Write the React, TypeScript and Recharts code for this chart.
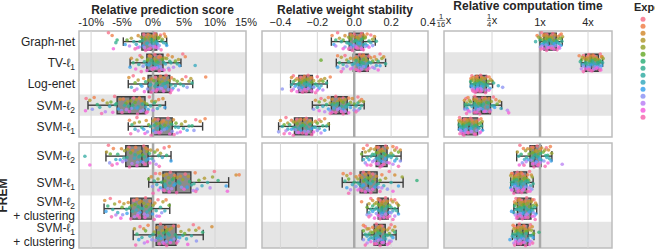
import React from 'react';
import { ScatterChart, Scatter, XAxis, YAxis, ReferenceArea, ReferenceLine } from 'recharts';

const FONT = '"Liberation Sans", Arial, Helvetica, sans-serif';
const TEXT = '#262626';

// One colour per experiment (husl-like palette)
const experimentColors = [
  '#f77189', '#f0804a', '#d38c32', '#b39b31', '#97a431',
  '#6cad31', '#33b07a', '#35ae93', '#36ada4', '#38aabf',
  '#3ba3ec', '#8e95f4', '#bb83f4', '#f461dd', '#f668b2',
];

const topMethods = ['Graph-net', 'TV-ℓ₁', 'Log-enet', 'SVM-ℓ₂', 'SVM-ℓ₁'];
const fremMethods = ['SVM-ℓ₂', 'SVM-ℓ₁', 'SVM-ℓ₂\n+ clustering', 'SVM-ℓ₁\n+ clustering'];

const scoreTicks = [-10, -5, 0, 5, 10, 15];
const stabilityTicks = [-0.4, -0.2, 0, 0.2, 0.4];
const timeTicks = [1 / 16, 1 / 4, 1, 4];

const scoreGrid = [-10, 10];
const stabilityGrid = [-0.4, -0.2, 0.2];
const timeGrid = [1 / 4, 4];

// Box statistics per method: [low whisker, Q1, median, Q3, high whisker]
const scoreBoxes = [
  [-4.8, -1.8, -0.2, 0.6, 2.2],
  [-3.7, -1.0, 0.0, 1.6, 4.5],
  [-4.0, -0.8, 0.8, 2.7, 6.4],
  [-10.5, -5.8, -3.7, -1.3, 2.0],
  [-4.0, -0.2, 1.1, 3.1, 8.0],
  [-7.6, -4.4, -1.8, -0.8, 2.9],
  [-0.7, 1.6, 3.7, 6.1, 12.2],
  [-7.9, -3.6, -1.8, -0.2, 2.7],
  [-3.2, 0.5, 1.9, 3.7, 8.1],
];
const stabilityBoxes = [
  [-0.124, -0.027, 0.005, 0.049, 0.114],
  [-0.097, -0.005, 0.03, 0.076, 0.17],
  [-0.345, -0.3, -0.26, -0.227, -0.146],
  [-0.227, -0.124, -0.081, -0.038, 0.054],
  [-0.41, -0.324, -0.28, -0.227, -0.135],
  [0.043, 0.119, 0.146, 0.178, 0.254],
  [-0.065, 0.032, 0.076, 0.124, 0.265],
  [0.07, 0.13, 0.151, 0.184, 0.238],
  [0.043, 0.108, 0.14, 0.168, 0.227],
];
const timeBoxes = [
  [1.0, 1.12, 1.3, 1.6, 1.9],
  [3.3, 3.7, 4.4, 5.4, 6.1],
  [0.134, 0.154, 0.173, 0.213, 0.254],
  [0.112, 0.146, 0.184, 0.24, 0.33],
  [0.095, 0.106, 0.129, 0.165, 0.19],
  [0.51, 0.75, 0.86, 1.03, 1.41],
  [0.43, 0.47, 0.56, 0.68, 0.82],
  [0.47, 0.52, 0.63, 0.77, 0.91],
  [0.45, 0.51, 0.61, 0.71, 0.84],
];

// Per-fold results, 4 values per experiment, experiments in palette order
const scoreGraphNet = [
  -7.2, -1.5, 0.3, 1.2, -6.6, -0.8, -0.1, 1.8, -2.4, -1.1, 0.5, 2.0,
  -3.5, -0.4, 0.2, 1.1, -1.9, -0.6, 0.8, 1.5, -4.2, -1.3, 0.1, 0.9,
  -5.8, -2.1, -0.3, 1.4, -6.0, -1.7, -0.2, 0.6, -3.1, -0.9, 0.4, 2.1,
  -2.7, -1.0, 0.0, 1.7, -4.5, -1.6, 0.7, 2.2, -2.2, -0.5, -0.1, 1.0,
  -3.8, -1.4, 0.2, 0.8, -6.4, -2.5, -0.7, 0.5, -2.9, -1.2, -0.4, 1.3,
];
const scoreTvL1 = [
  -2.1, 0.3, 1.1, 4.8, -0.6, 0.9, 2.4, 5.2, -3.5, -0.4, 1.3, 3.1,
  -1.8, 0.2, 1.9, 4.1, -2.6, -0.8, 0.6, 2.2, -0.9, 0.5, 1.5, 3.6,
  -3.2, -0.2, 0.8, 2.7, -1.4, 0.1, 1.7, 3.9, -2.3, -0.5, 0.4, 2.9,
  -1.1, 0.7, 2.0, 6.8, -3.7, -0.7, 0.9, 4.3, -1.6, 0.0, 1.2, 2.5,
  -0.3, 0.6, 1.4, 3.3, -2.8, -1.0, 0.2, 1.8, -1.9, -0.1, 1.0, 2.6,
];
const scoreLogEnet = [
  -3.2, 0.4, 2.1, 5.3, -1.5, 1.2, 3.0, 8.5, -3.9, -0.2, 1.8, 4.7,
  -2.4, 0.9, 2.6, 6.1, -0.7, 1.5, 3.4, 5.8, -2.9, 0.1, 1.0, 3.9,
  -1.2, 0.6, 2.3, 4.4, -0.4, 1.9, 2.9, 6.3, -2.0, 0.3, 1.6, 3.6,
  -3.5, -0.5, 1.3, 4.9, -1.8, 0.8, 2.0, 3.2, -0.9, 1.1, 2.5, 5.5,
  -2.6, 0.0, 1.4, 4.1, -1.4, 0.7, 1.7, 3.0, -3.0, -0.3, 0.5, 2.8,
];
const scoreSvmL2 = [
  -10.8, -6.2, -3.1, -0.6, -9.5, -4.8, -2.2, 0.9, -8.1, -5.3, -1.9, 1.6,
  -10.2, -4.1, -2.7, -0.2, -7.4, -3.6, -1.4, 0.4, -6.8, -4.4, -2.9, -1.0,
  -9.0, -5.9, -3.3, 0.2, -6.1, -3.9, -1.7, 1.1, -8.6, -4.6, -2.4, -0.4,
  -7.0, -3.2, -1.2, 0.7, -5.6, -2.6, -0.8, 1.9, -9.8, -5.1, -3.5, -1.6,
  -7.7, -4.3, -2.0, 0.0, -10.9, -6.5, -3.8, -1.1, -8.3, -5.0, -2.5, -0.9,
];
const scoreSvmL1 = [
  -2.6, 0.8, 2.4, 6.9, -3.8, 0.3, 1.7, 8.4, -1.1, 1.4, 3.3, 7.6,
  -3.0, 0.0, 2.1, 5.2, -2.2, 1.0, 2.8, 4.6, -0.7, 0.5, 1.9, 3.7,
  -3.4, 1.2, 3.0, 6.3, -1.8, 0.2, 2.5, 5.8, -0.4, 1.6, 3.6, 4.9,
  -2.9, 0.7, 1.5, 4.1, -1.5, 0.1, 2.2, 5.5, -0.9, 1.8, 3.1, 6.6,
  -2.4, 0.4, 1.3, 3.9, -1.3, 0.9, 2.7, 4.4, -3.6, -0.3, 1.1, 3.4,
];
const scoreFremSvmL2 = [
  -7.2, -3.9, -1.5, 1.8, -6.4, -2.8, -0.9, 2.6, -5.1, -3.3, -1.2, 0.7,
  -7.5, -4.1, -2.0, -0.4, -4.6, -2.4, -1.0, 1.2, -6.9, -3.6, -1.7, 0.3,
  -5.7, -2.1, -0.6, 2.2, -4.2, -2.9, -1.4, 0.9, -11.0, -4.7, -2.3, -0.2,
  -6.0, -3.0, -1.1, 1.5, -5.3, -1.9, -0.7, 2.9, -7.0, -4.4, -2.5, 0.1,
  -4.9, -3.4, -1.6, 0.5, -10.2, -5.8, -2.6, -0.5, -6.6, -3.8, -1.3, 1.0,
];
const scoreFremSvmL1 = [
  0.4, 2.8, 5.2, 9.9, 1.1, 3.5, 6.8, 13.9, -0.3, 2.2, 4.4, 13.4,
  1.7, 3.9, 5.7, 8.3, 0.8, 2.5, 4.8, 9.6, -0.7, 1.9, 3.3, 7.4,
  1.4, 3.1, 5.9, 10.5, 0.2, 2.7, 4.1, 6.6, 1.9, 4.3, 6.2, 8.8,
  0.6, 2.0, 3.6, 7.9, 1.2, 3.4, 5.5, 11.8, -0.1, 2.4, 4.6, 7.1,
  1.6, 3.0, 6.5, 9.2, 0.9, 2.6, 5.0, 12.0, 0.0, 1.8, 3.8, 6.9,
];
const scoreFremSvmL2Clust = [
  -6.9, -3.1, -1.2, 0.8, -5.4, -2.6, -0.5, 2.1, -7.8, -4.0, -1.9, 0.3,
  -4.7, -2.2, -0.8, 1.6, -6.2, -3.5, -1.5, 0.0, -5.0, -2.9, -1.1, 2.6,
  -7.3, -3.8, -2.4, -0.3, -4.3, -2.0, -0.6, 1.2, -6.5, -3.3, -1.7, 0.5,
  -5.7, -2.7, -1.0, 1.9, -7.6, -4.2, -2.1, -0.1, -4.9, -2.4, -0.9, 1.4,
  -6.0, -3.0, -1.4, 0.6, -5.2, -2.5, -1.3, 1.0, -6.7, -3.6, -2.2, 0.2,
];
const scoreFremSvmL1Clust = [
  -2.1, 1.2, 3.3, 6.5, -0.8, 2.0, 4.1, 7.4, -1.5, 0.6, 2.7, 9.5,
  -3.0, 1.5, 3.0, 5.8, 0.2, 2.3, 4.5, 6.9, -1.2, 0.9, 2.1, 5.1,
  -2.6, 1.7, 3.6, 8.0, 0.0, 1.1, 2.4, 4.8, -1.8, 2.6, 3.9, 6.2,
  -0.5, 0.7, 1.9, 5.4, -2.3, 1.3, 2.9, 4.3, -0.2, 2.1, 3.4, 7.0,
  -1.4, 0.4, 1.6, 4.0, -0.9, 1.8, 2.8, 5.6, -2.8, 1.0, 2.2, 3.8,
];

const stabGraphNet = [
  -0.09, 0.0, 0.04, 0.09, -0.12, -0.02, 0.03, 0.07, -0.05, 0.01, 0.05, 0.11,
  -0.08, -0.01, 0.02, 0.06, -0.03, 0.02, 0.06, 0.1, -0.06, -0.02, 0.01, 0.05,
  -0.1, 0.0, 0.04, 0.08, -0.04, 0.01, 0.03, 0.12, -0.07, -0.03, 0.02, 0.06,
  -0.02, 0.02, 0.05, 0.09, -0.11, -0.01, 0.03, 0.07, -0.05, 0.0, 0.06, 0.1,
  -0.1, -0.02, 0.01, 0.04, -0.06, 0.01, 0.04, 0.08, -0.03, -0.01, 0.02, 0.05,
];
const stabTvL1 = [
  -0.05, 0.03, 0.08, 0.14, -0.09, 0.01, 0.05, 0.11, -0.02, 0.04, 0.09, 0.16,
  -0.07, 0.0, 0.06, 0.12, -0.04, 0.02, 0.07, 0.15, -0.18, 0.03, 0.05, 0.1,
  -0.08, 0.01, 0.04, 0.13, -0.03, 0.05, 0.08, 0.17, -0.06, 0.0, 0.03, 0.09,
  -0.01, 0.04, 0.07, 0.12, -0.09, 0.02, 0.06, 0.14, -0.04, 0.03, 0.05, 0.11,
  -0.06, -0.01, 0.04, 0.1, -0.02, 0.02, 0.08, 0.13, -0.07, 0.01, 0.03, 0.07,
];
const stabLogEnet = [
  -0.33, -0.29, -0.25, -0.2, -0.31, -0.27, -0.23, -0.13, -0.34, -0.28, -0.24, -0.18,
  -0.3, -0.26, -0.22, -0.16, -0.32, -0.28, -0.25, -0.19, -0.29, -0.27, -0.23, -0.17,
  -0.33, -0.3, -0.26, -0.21, -0.31, -0.27, -0.24, -0.15, -0.34, -0.29, -0.25, -0.2,
  -0.3, -0.26, -0.22, -0.18, -0.32, -0.28, -0.24, -0.19, -0.39, -0.3, -0.26, -0.22,
  -0.33, -0.29, -0.25, -0.17, -0.31, -0.27, -0.23, -0.2, -0.34, -0.28, -0.26, -0.21,
];
const stabSvmL2 = [
  -0.18, -0.1, -0.06, 0.02, -0.14, -0.08, -0.03, 0.04, -0.21, -0.12, -0.07, -0.01,
  -0.16, -0.09, -0.05, 0.03, -0.13, -0.07, -0.02, 0.05, -0.19, -0.11, -0.06, 0.0,
  -0.15, -0.09, -0.04, 0.02, -0.12, -0.07, -0.03, 0.04, -0.2, -0.1, -0.05, 0.01,
  -0.17, -0.08, -0.04, 0.03, -0.14, -0.11, -0.06, -0.02, -0.22, -0.13, -0.08, 0.0,
  -0.16, -0.09, -0.05, 0.02, -0.19, -0.12, -0.07, -0.03, -0.13, -0.1, -0.06, 0.01,
];
const stabSvmL1 = [
  -0.37, -0.31, -0.26, -0.19, -0.34, -0.29, -0.24, -0.16, -0.4, -0.32, -0.27, -0.21,
  -0.36, -0.3, -0.25, -0.18, -0.33, -0.28, -0.23, -0.14, -0.38, -0.31, -0.27, -0.2,
  -0.35, -0.29, -0.24, -0.17, -0.32, -0.28, -0.22, -0.15, -0.39, -0.33, -0.26, -0.19,
  -0.36, -0.3, -0.25, -0.21, -0.34, -0.29, -0.23, -0.16, -0.41, -0.32, -0.27, -0.2,
  -0.37, -0.31, -0.25, -0.18, -0.35, -0.3, -0.26, -0.22, -0.38, -0.33, -0.28, -0.23,
];
const stabFremSvmL2 = [
  0.07, 0.13, 0.17, 0.23, 0.05, 0.12, 0.15, 0.21, 0.09, 0.14, 0.18, 0.25,
  0.06, 0.11, 0.16, 0.22, 0.08, 0.13, 0.15, 0.2, 0.04, 0.12, 0.17, 0.24,
  0.1, 0.14, 0.16, 0.21, 0.07, 0.11, 0.15, 0.19, 0.09, 0.13, 0.18, 0.23,
  0.05, 0.12, 0.14, 0.2, 0.08, 0.15, 0.17, 0.22, 0.06, 0.11, 0.16, 0.25,
  0.1, 0.13, 0.18, 0.21, 0.07, 0.12, 0.15, 0.19, 0.09, 0.14, 0.16, 0.24,
];
const stabFremSvmL1 = [
  -0.02, 0.05, 0.1, 0.19, -0.06, 0.03, 0.08, 0.15, 0.01, 0.06, 0.12, 0.22,
  -0.04, 0.04, 0.09, 0.17, 0.02, 0.07, 0.11, 0.26, -0.03, 0.05, 0.08, 0.14,
  0.0, 0.06, 0.1, 0.34, -0.05, 0.02, 0.07, 0.13, 0.03, 0.08, 0.12, 0.2,
  -0.01, 0.04, 0.09, 0.16, -0.04, 0.05, 0.11, 0.24, 0.01, 0.07, 0.13, 0.18,
  -0.02, 0.03, 0.08, 0.15, 0.02, 0.06, 0.1, 0.21, -0.03, 0.04, 0.09, 0.14,
];
const stabFremSvmL2Clust = [
  0.09, 0.14, 0.17, 0.22, 0.04, 0.13, 0.16, 0.2, 0.1, 0.15, 0.18, 0.23,
  0.08, 0.12, 0.15, 0.21, 0.11, 0.14, 0.17, 0.24, 0.07, 0.13, 0.16, 0.19,
  0.1, 0.15, 0.18, 0.22, 0.09, 0.12, 0.15, 0.2, 0.11, 0.14, 0.17, 0.23,
  0.08, 0.13, 0.16, 0.21, 0.1, 0.15, 0.19, 0.24, 0.07, 0.12, 0.15, 0.2,
  0.09, 0.14, 0.17, 0.22, 0.11, 0.13, 0.16, 0.19, 0.08, 0.14, 0.18, 0.21,
];
const stabFremSvmL1Clust = [
  0.06, 0.12, 0.15, 0.2, 0.05, 0.1, 0.14, 0.19, 0.08, 0.13, 0.16, 0.22,
  0.07, 0.11, 0.14, 0.18, 0.09, 0.12, 0.15, 0.21, 0.05, 0.1, 0.13, 0.19,
  0.08, 0.13, 0.17, 0.22, 0.06, 0.11, 0.14, 0.18, 0.09, 0.12, 0.16, 0.2,
  0.07, 0.1, 0.13, 0.17, 0.08, 0.12, 0.15, 0.21, 0.05, 0.11, 0.14, 0.19,
  0.07, 0.13, 0.16, 0.2, 0.09, 0.12, 0.15, 0.18, 0.06, 0.11, 0.14, 0.19,
];

const timeGraphNet = [
  1.05, 1.22, 1.45, 1.78, 0.92, 1.15, 1.38, 1.85, 1.1, 1.28, 1.55, 1.7,
  1.02, 1.2, 1.42, 1.92, 0.96, 1.18, 1.35, 1.66, 1.08, 1.25, 1.5, 1.8,
  1.0, 1.16, 1.33, 1.62, 1.12, 1.3, 1.58, 1.88, 0.88, 1.14, 1.4, 1.74,
  1.04, 1.23, 1.47, 1.68, 1.09, 1.27, 1.52, 1.83, 1.01, 1.19, 1.36, 1.59,
  1.06, 1.24, 1.44, 1.76, 1.11, 1.29, 1.49, 1.72, 1.03, 1.21, 1.39, 1.64,
];
const timeTvL1 = [
  3.5, 4.1, 4.8, 5.7, 3.1, 3.9, 4.6, 5.9, 3.6, 4.3, 5.1, 6.0,
  3.4, 4.0, 4.7, 5.5, 3.8, 4.4, 5.2, 6.2, 3.3, 4.2, 4.9, 5.6,
  3.7, 4.5, 5.3, 5.8, 3.2, 3.9, 4.6, 5.4, 3.6, 4.3, 5.0, 6.1,
  3.4, 4.1, 4.8, 5.5, 3.9, 4.4, 5.2, 5.9, 3.5, 4.2, 4.9, 5.7,
  3.3, 4.0, 4.7, 5.3, 3.7, 4.3, 5.1, 5.8, 3.5, 4.1, 4.5, 5.6,
];
const timeLogEnet = [
  0.14, 0.158, 0.18, 0.215, 0.136, 0.162, 0.185, 0.23, 0.145, 0.165, 0.19, 0.24,
  0.138, 0.155, 0.176, 0.205, 0.142, 0.16, 0.182, 0.25, 0.15, 0.168, 0.195, 0.225,
  0.135, 0.157, 0.178, 0.21, 0.148, 0.17, 0.198, 0.262, 0.139, 0.163, 0.188, 0.22,
  0.144, 0.166, 0.192, 0.3, 0.137, 0.159, 0.181, 0.235, 0.146, 0.167, 0.186, 0.34,
  0.141, 0.161, 0.179, 0.212, 0.149, 0.164, 0.183, 0.228, 0.143, 0.156, 0.174, 0.207,
];
const timeSvmL2 = [
  0.118, 0.152, 0.19, 0.26, 0.125, 0.16, 0.205, 0.28, 0.113, 0.148, 0.178, 0.23,
  0.13, 0.165, 0.198, 0.31, 0.121, 0.155, 0.185, 0.245, 0.135, 0.17, 0.215, 0.29,
  0.116, 0.15, 0.182, 0.225, 0.128, 0.162, 0.195, 0.265, 0.119, 0.153, 0.188, 0.25,
  0.14, 0.172, 0.22, 0.325, 0.123, 0.158, 0.192, 0.27, 0.114, 0.147, 0.18, 0.238,
  0.132, 0.168, 0.21, 0.39, 0.126, 0.161, 0.2, 0.405, 0.12, 0.151, 0.176, 0.235,
];
const timeSvmL1 = [
  0.098, 0.112, 0.135, 0.17, 0.102, 0.118, 0.142, 0.182, 0.096, 0.109, 0.128, 0.16,
  0.105, 0.122, 0.148, 0.188, 0.099, 0.114, 0.132, 0.165, 0.108, 0.125, 0.152, 0.178,
  0.097, 0.11, 0.13, 0.158, 0.103, 0.119, 0.145, 0.185, 0.1, 0.115, 0.138, 0.172,
  0.106, 0.121, 0.14, 0.168, 0.098, 0.113, 0.134, 0.19, 0.104, 0.117, 0.136, 0.162,
  0.101, 0.116, 0.139, 0.175, 0.107, 0.124, 0.15, 0.18, 0.099, 0.111, 0.127, 0.155,
];
const timeFremSvmL2 = [
  0.56, 0.78, 0.92, 1.2, 0.62, 0.82, 1.0, 1.35, 0.7, 0.88, 1.05, 1.28,
  0.52, 0.76, 0.9, 1.15, 0.66, 0.85, 0.98, 1.4, 0.73, 0.8, 0.95, 1.1,
  0.58, 0.84, 1.02, 1.25, 0.68, 0.87, 0.93, 1.18, 0.54, 0.79, 0.97, 1.32,
  0.64, 0.83, 1.04, 1.22, 0.71, 0.89, 0.99, 1.38, 0.6, 0.77, 0.91, 1.12,
  0.67, 0.86, 1.01, 1.9, 0.55, 0.81, 0.94, 1.26, 0.63, 0.84, 0.96, 1.16,
];
const timeFremSvmL1 = [
  0.45, 0.52, 0.6, 0.74, 0.44, 0.5, 0.58, 0.7, 0.47, 0.54, 0.63, 0.78,
  0.43, 0.49, 0.57, 0.68, 0.46, 0.53, 0.61, 0.8, 0.48, 0.55, 0.64, 0.72,
  0.44, 0.51, 0.59, 0.69, 0.47, 0.56, 0.66, 0.82, 0.45, 0.5, 0.58, 0.71,
  0.46, 0.52, 0.62, 0.76, 0.43, 0.49, 0.57, 0.67, 0.48, 0.54, 0.65, 0.79,
  0.45, 0.51, 0.6, 0.73, 0.44, 0.53, 0.62, 0.75, 0.47, 0.55, 0.59, 0.7,
];
const timeFremSvmL2Clust = [
  0.5, 0.58, 0.68, 0.84, 0.48, 0.55, 0.65, 0.8, 0.53, 0.61, 0.72, 0.88,
  0.49, 0.57, 0.66, 0.78, 0.51, 0.59, 0.7, 0.9, 0.54, 0.62, 0.74, 0.82,
  0.48, 0.56, 0.64, 0.79, 0.52, 0.6, 0.71, 0.86, 0.5, 0.58, 0.67, 0.81,
  0.47, 0.55, 0.63, 0.77, 0.44, 0.61, 0.73, 0.89, 0.53, 0.57, 0.66, 0.83,
  0.49, 0.59, 0.69, 0.85, 0.51, 0.56, 0.65, 0.8, 0.52, 0.6, 0.7, 0.87,
];
const timeFremSvmL1Clust = [
  0.48, 0.55, 0.64, 0.76, 0.46, 0.53, 0.62, 0.74, 0.5, 0.57, 0.66, 0.8,
  0.47, 0.54, 0.61, 0.72, 0.49, 0.56, 0.65, 0.78, 0.51, 0.58, 0.68, 0.83,
  0.46, 0.53, 0.6, 0.97, 0.5, 0.57, 0.67, 0.79, 0.48, 0.55, 0.63, 0.75,
  0.45, 0.52, 0.59, 0.71, 0.42, 0.58, 0.69, 0.82, 0.49, 0.54, 0.62, 0.73,
  0.47, 0.56, 0.64, 0.77, 0.5, 0.53, 0.61, 0.74, 0.48, 0.57, 0.66, 0.81,
];

const PER_EXP = 4;
const HUE_STEP = 0.78 / experimentColors.length;
const JITTER = [-0.05, 0.025, -0.02, 0.05];

// Points of one experiment across all rows, dodged by hue inside each row
function experimentPoints(rows: number[][], k: number) {
  const pts: { x: number; y: number }[] = [];
  rows.forEach((vals, r) => {
    for (let j = 0; j < PER_EXP; j++) {
      pts.push({
        x: vals[k * PER_EXP + j],
        y: r + (k - (experimentColors.length - 1) / 2) * HUE_STEP + JITTER[(j + r + k) % PER_EXP],
      });
    }
  });
  return pts;
}

const SUBSCRIPTS: Record<string, string> = { '₁': '1', '₂': '2' };

function LabelLine({ text }: { text: string }) {
  const parts: React.ReactNode[] = [];
  let buf = '';
  for (const ch of Array.from(text)) {
    if (SUBSCRIPTS[ch]) {
      if (buf) parts.push(<tspan key={parts.length}>{buf}</tspan>);
      buf = '';
      parts.push(
        <tspan key={parts.length} fontSize={8.5} dy={3}>
          {SUBSCRIPTS[ch]}
        </tspan>
      );
    } else buf += ch;
  }
  if (buf) parts.push(<tspan key={parts.length}>{buf}</tspan>);
  return <>{parts}</>;
}

const makeMethodTick = (labels: string[]) => (props: any) => {
  const { x, y, payload } = props;
  const lines = labels[payload.value].split('\n');
  const ys = lines.length === 1 ? [y + 4.3] : [y - 2.5, y + 11];
  return (
    <g>
      {lines.map((ln, i) => (
        <text key={i} x={x - 4} y={ys[i]} textAnchor="end" fontSize={12} fill={TEXT} fontFamily={FONT}>
          <LabelLine text={ln} />
        </text>
      ))}
    </g>
  );
};

const TICK_BASE = 25.5;

const scoreTick = (props: any) => (
  <text x={props.x} y={TICK_BASE} textAnchor="middle" fontSize={11} fill={TEXT} fontFamily={FONT}>
    {`${props.payload.value}%`}
  </text>
);

const stabilityTick = (props: any) => {
  const v = props.payload.value as number;
  const s = (v < 0 ? '\u2212' : '') + Math.abs(v).toFixed(1);
  return (
    <text x={props.x} y={TICK_BASE} textAnchor="middle" fontSize={11} fill={TEXT} fontFamily={FONT}>
      {s}
    </text>
  );
};

const timeTick = (props: any) => {
  const v = props.payload.value as number;
  const x = props.x as number;
  if (v >= 1) {
    return (
      <text x={x} y={TICK_BASE} textAnchor="middle" fontSize={11} fill={TEXT} fontFamily={FONT}>
        {`${v}x`}
      </text>
    );
  }
  const den = String(Math.round(1 / v));
  const fracW = den.length * 4.2;
  const start = x - (fracW + 6) / 2;
  const cx = start + fracW / 2;
  return (
    <g fontFamily={FONT} fill={TEXT}>
      <text x={cx} y={19.3} textAnchor="middle" fontSize={7.5}>1</text>
      <line x1={cx - fracW / 2} x2={cx + fracW / 2} y1={20.4} y2={20.4} stroke={TEXT} strokeWidth={0.6} />
      <text x={cx} y={26.6} textAnchor="middle" fontSize={7.5}>{den}</text>
      <text x={start + fracW + 0.6} y={23.8} fontSize={11}>x</text>
    </g>
  );
};

type PanelProps = {
  x0: number;
  x1: number;
  y0: number;
  y1: number;
  domain: [number, number];
  log?: boolean;
  ticks?: number[];
  tick?: (p: any) => React.ReactElement;
  labels?: string[];
  rows: number[][];
  boxes: number[][];
  grid: number[];
  refValue: number;
};

const BOX_EDGE = '#3d3d3d';
const SIDE = 14;

function Panel(p: PanelProps) {
  const n = p.rows.length;
  const withLabels = !!p.labels;
  const withTicks = !!p.tick;
  const yAxisW = withLabels ? p.x0 : 0;
  const mLeft = withLabels ? 0 : SIDE;
  const axisH = withTicks ? p.y0 : 0;
  const mTop = withTicks ? 0 : 2;
  const left = withLabels ? 0 : p.x0 - SIDE;
  const top = withTicks ? 0 : p.y0 - 2;
  const width = mLeft + yAxisW + (p.x1 - p.x0) + SIDE;
  const height = mTop + axisH + (p.y1 - p.y0) + 3;
  const [d0, d1] = p.domain;
  const rowIdx = p.rows.map((_, i) => i);
  const seg = (xa: number, ya: number, xb: number, yb: number) => [
    { x: xa, y: ya },
    { x: xb, y: yb },
  ];

  return (
    <div style={{ position: 'absolute', left, top, width, height }}>
      <ScatterChart width={width} height={height} margin={{ top: mTop, right: SIDE, bottom: 3, left: mLeft }}>
        <XAxis
          type="number"
          dataKey="x"
          domain={p.domain}
          scale={p.log ? 'log' : 'linear'}
          allowDataOverflow
          ticks={p.ticks}
          interval={0}
          orientation="top"
          hide={!withTicks}
          height={axisH}
          tickLine={false}
          axisLine={false}
          tickSize={0}
          tickMargin={0}
          tick={p.tick}
        />
        <YAxis
          type="number"
          dataKey="y"
          domain={[-0.5, n - 0.5]}
          reversed
          allowDataOverflow
          ticks={rowIdx}
          interval={0}
          hide={!withLabels}
          width={yAxisW}
          tickLine={false}
          axisLine={false}
          tickSize={0}
          tickMargin={0}
          tick={withLabels ? makeMethodTick(p.labels as string[]) : false}
        />
        {rowIdx
          .filter((r) => r % 2 === 1)
          .map((r) => (
            <ReferenceArea key={`s${r}`} x1={d0} x2={d1} y1={r - 0.5} y2={r + 0.5} fill="#e5e5e5" fillOpacity={1} stroke="none" />
          ))}
        {p.grid.map((g) => (
          <ReferenceLine key={`g${g}`} x={g} stroke="#d6d6d6" strokeWidth={1} />
        ))}
        <ReferenceLine x={p.refValue} stroke="#a9a9a9" strokeWidth={2.5} />
        {p.boxes.map((b, r) => (
          <ReferenceArea key={`b${r}`} x1={b[1]} x2={b[3]} y1={r - 0.4} y2={r + 0.4} fill="#8c8c8c" fillOpacity={1} stroke={BOX_EDGE} strokeWidth={1.4} />
        ))}
        {p.boxes.map((b, r) => (
          <ReferenceLine key={`m${r}`} segment={seg(b[2], r - 0.4, b[2], r + 0.4)} stroke={BOX_EDGE} strokeWidth={1.4} />
        ))}
        {p.boxes.map((b, r) => (
          <ReferenceLine key={`wl${r}`} segment={seg(b[0], r, b[1], r)} stroke={BOX_EDGE} strokeWidth={1.4} />
        ))}
        {p.boxes.map((b, r) => (
          <ReferenceLine key={`wh${r}`} segment={seg(b[3], r, b[4], r)} stroke={BOX_EDGE} strokeWidth={1.4} />
        ))}
        {p.boxes.map((b, r) => (
          <ReferenceLine key={`cl${r}`} segment={seg(b[0], r - 0.2, b[0], r + 0.2)} stroke={BOX_EDGE} strokeWidth={1.4} />
        ))}
        {p.boxes.map((b, r) => (
          <ReferenceLine key={`ch${r}`} segment={seg(b[4], r - 0.2, b[4], r + 0.2)} stroke={BOX_EDGE} strokeWidth={1.4} />
        ))}
        {experimentColors.map((c, k) => (
          <Scatter
            key={`e${k}`}
            data={experimentPoints(p.rows, k)}
            fill={c}
            isAnimationActive={false}
            shape={(sp: any) => <circle cx={sp.cx} cy={sp.cy} r={1.8} fill={c} fillOpacity={0.78} />}
          />
        ))}
        <ReferenceArea x1={d0} x2={d1} y1={-0.5} y2={n - 0.5} fill="none" stroke="#bdbdbd" strokeWidth={1.5} ifOverflow="visible" />
      </ScatterChart>
    </div>
  );
}

const P1 = { x0: 79, x1: 246 };
const P2 = { x0: 262, x1: 428 };
const P3 = { x0: 444, x1: 612 };
const TOP = { y0: 31, y1: 137 };
const BOTTOM = { y0: 143, y1: 248 };

const scoreDomain: [number, number] = [-11.95, 15];
const stabilityDomain: [number, number] = [-0.5, 0.4];
const timeDomain: [number, number] = [1 / 16, 8];

const scoreTop = [scoreGraphNet, scoreTvL1, scoreLogEnet, scoreSvmL2, scoreSvmL1];
const scoreFrem = [scoreFremSvmL2, scoreFremSvmL1, scoreFremSvmL2Clust, scoreFremSvmL1Clust];
const stabTop = [stabGraphNet, stabTvL1, stabLogEnet, stabSvmL2, stabSvmL1];
const stabFrem = [stabFremSvmL2, stabFremSvmL1, stabFremSvmL2Clust, stabFremSvmL1Clust];
const timeTop = [timeGraphNet, timeTvL1, timeLogEnet, timeSvmL2, timeSvmL1];
const timeFrem = [timeFremSvmL2, timeFremSvmL1, timeFremSvmL2Clust, timeFremSvmL1Clust];

export default function App() {
  return (
    <div style={{ position: 'absolute', left: 0, top: 0, width: 655, height: 251, overflow: 'hidden', background: '#fff' }}>
      <Panel {...P1} {...TOP} domain={scoreDomain} ticks={scoreTicks} tick={scoreTick} labels={topMethods} rows={scoreTop} boxes={scoreBoxes.slice(0, 5)} grid={scoreGrid} refValue={0} />
      <Panel {...P1} {...BOTTOM} domain={scoreDomain} labels={fremMethods} rows={scoreFrem} boxes={scoreBoxes.slice(5)} grid={scoreGrid} refValue={0} />
      <Panel {...P2} {...TOP} domain={stabilityDomain} ticks={stabilityTicks} tick={stabilityTick} rows={stabTop} boxes={stabilityBoxes.slice(0, 5)} grid={stabilityGrid} refValue={0} />
      <Panel {...P2} {...BOTTOM} domain={stabilityDomain} rows={stabFrem} boxes={stabilityBoxes.slice(5)} grid={stabilityGrid} refValue={0} />
      <Panel {...P3} {...TOP} domain={timeDomain} log ticks={timeTicks} tick={timeTick} rows={timeTop} boxes={timeBoxes.slice(0, 5)} grid={timeGrid} refValue={1} />
      <Panel {...P3} {...BOTTOM} domain={timeDomain} log rows={timeFrem} boxes={timeBoxes.slice(5)} grid={timeGrid} refValue={1} />

      <svg width={655} height={251} style={{ position: 'absolute', left: 0, top: 0, pointerEvents: 'none' }}>
        <g fontFamily={FONT} fontWeight="bold" fontSize={12} fill={TEXT}>
          <text x={162.5} y={13.5} textAnchor="middle">Relative prediction score</text>
          <text x={345} y={13.5} textAnchor="middle">Relative weight stability</text>
          <text x={528} y={10} textAnchor="middle">Relative computation time</text>
          <text x={634} y={11} fontSize={11}>Experiment</text>
          <text transform="rotate(-90 6.5 195.5)" x={6.5} y={195.5} textAnchor="middle">FREM</text>
        </g>
        {experimentColors.map((c, i) => (
          <circle key={c} cx={643} cy={19.3 + i * 7} r={2.5} fill={c} fillOpacity={0.85} />
        ))}
      </svg>
    </div>
  );
}
